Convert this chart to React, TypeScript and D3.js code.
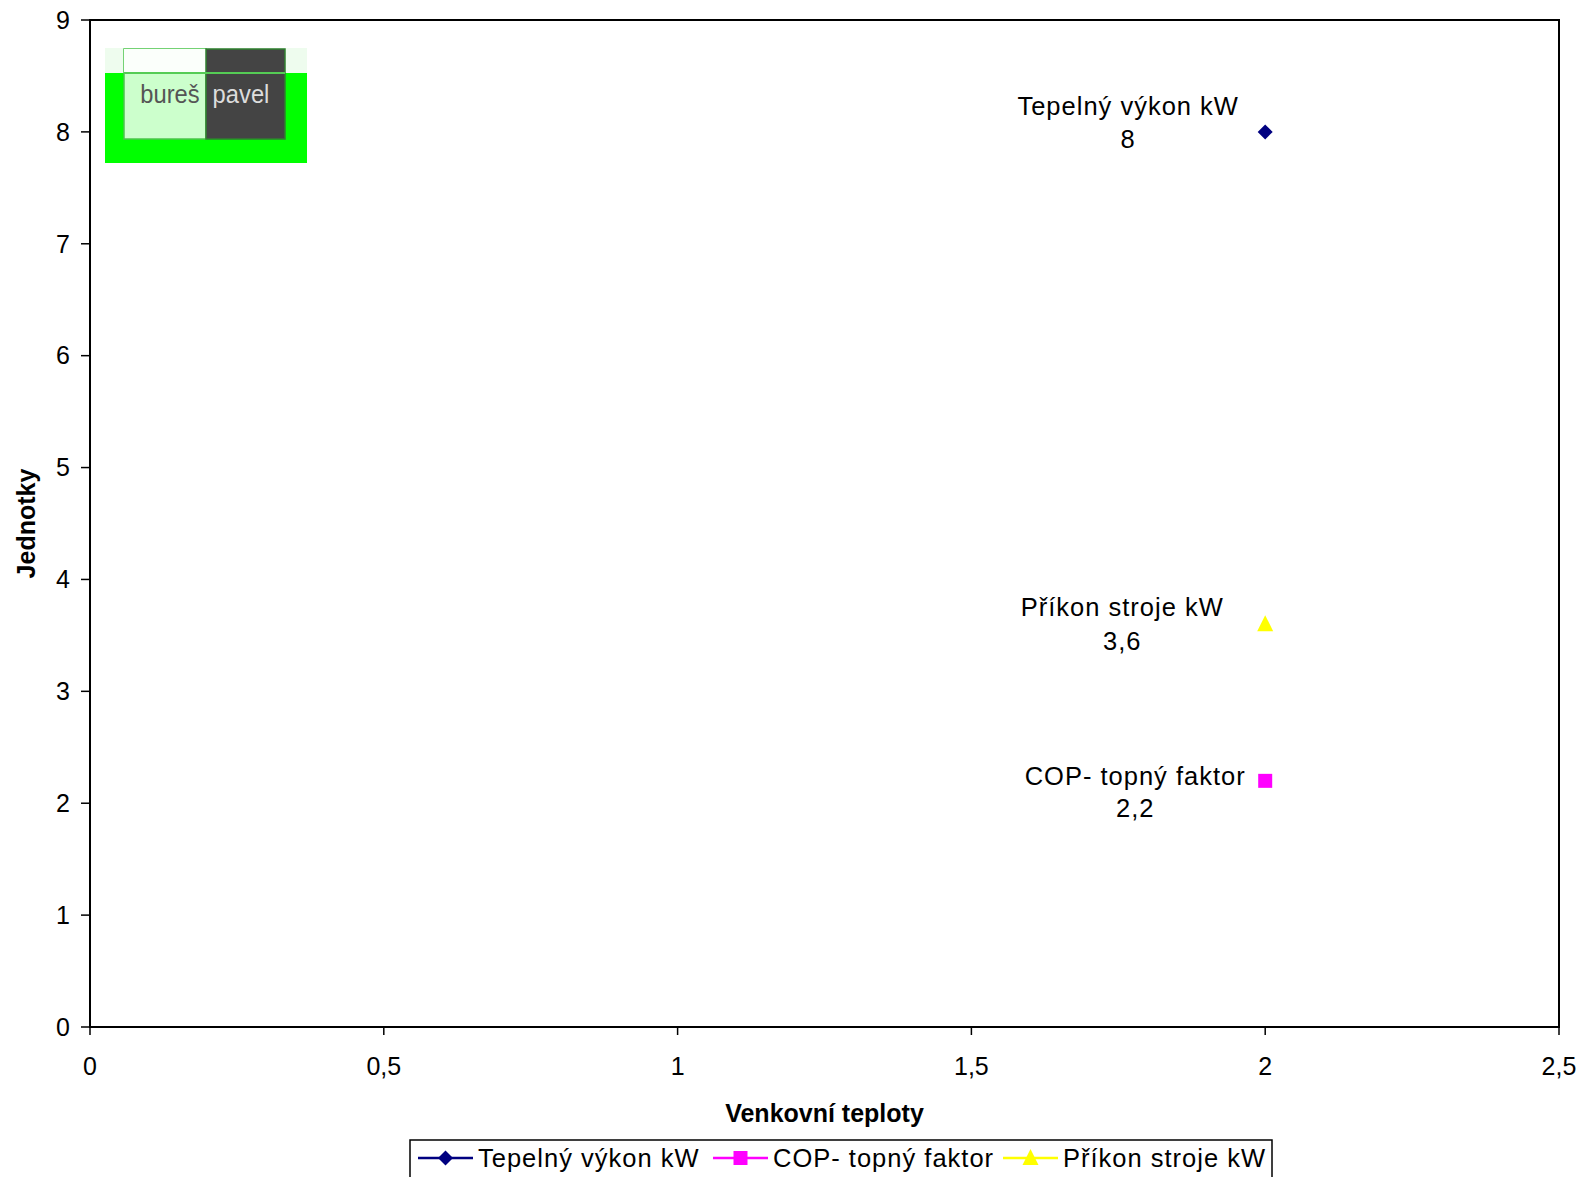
import React from "react";
import * as d3 from "d3";

const xValues = [2];
const seriesNames = ["Tepelný výkon kW", "COP- topný faktor", "Příkon stroje kW"];
const tepelnyVykon = [8];
const cop = [2.2];
const prikon = [3.6];
const xTicks = [0, 0.5, 1, 1.5, 2, 2.5];
const yTicks = [0, 1, 2, 3, 4, 5, 6, 7, 8, 9];
const xTitle = "Venkovní teploty";
const yTitle = "Jednotky";

const W = 1586, H = 1177;
const M = { left: 90, right: 1559, top: 20, bottom: 1027 };
const FONT = "'Liberation Sans', Arial, sans-serif";
const fmt = (v: number) => String(v).replace(".", ",");

const styles = [
  { color: "#000080", shape: "diamond", labelDx: -137, dy1: -17, dy2: 16 },
  { color: "#ff00ff", shape: "square", labelDx: -130, dy1: 4, dy2: 36 },
  { color: "#ffff00", shape: "triangle", labelDx: -143, dy1: -8, dy2: 26 },
];
const legendX = [418, 713, 1003];

function Marker({ shape, color, x, y }: { shape: string; color: string; x: number; y: number }) {
  if (shape === "diamond") {
    const p = d3.path();
    p.moveTo(x, y - 7.5); p.lineTo(x + 7.5, y); p.lineTo(x, y + 7.5); p.lineTo(x - 7.5, y); p.closePath();
    return <path d={p.toString()} fill={color} />;
  }
  if (shape === "square") return <rect x={x - 7} y={y - 7} width={14} height={14} fill={color} />;
  const p = d3.path();
  p.moveTo(x, y - 9); p.lineTo(x + 8, y + 7); p.lineTo(x - 8, y + 7); p.closePath();
  return <path d={p.toString()} fill={color} />;
}

export default function App() {
  const x = d3.scaleLinear().domain([0, 2.5]).range([M.left, M.right]);
  const y = d3.scaleLinear().domain([0, 9]).range([M.bottom, M.top]);
  const series = [tepelnyVykon, cop, prikon];
  return (
    <svg width={W} height={H} style={{ position: "absolute", left: 0, top: 0, background: "#fff" }} fontFamily={FONT}>
      <rect width={W} height={H} fill="#fff" />
      {/* logo */}
      <g>
        <rect x={105} y={48} width={202} height={25} fill="#eefcee" />
        <rect x={105} y={73} width={202} height={90} fill="#00ff00" />
        <rect x={124} y={49} width={82} height={90} fill="#ccffcc" stroke="#4cc44c" strokeWidth={1.5} />
        <rect x={124} y={49} width={82} height={24} fill="#fbfffb" />
        <rect x={206} y={49} width={79} height={90} fill="#444444" stroke="#2f7f2f" strokeWidth={1.5} />
        <line x1={124} x2={285} y1={73} y2={73} stroke="#55cc55" strokeWidth={2} />
        <text x={170} y={103} textAnchor="middle" fontSize={25} fill="#555" transform="translate(170,0) scale(0.95,1) translate(-170,0)">bureš</text>
        <text x={241} y={103} textAnchor="middle" fontSize={25} fill="#ddd" transform="translate(241,0) scale(0.95,1) translate(-241,0)">pavel</text>
      </g>
      {/* plot frame */}
      <rect x={M.left} y={M.top} width={M.right - M.left} height={M.bottom - M.top} fill="none" stroke="#000" strokeWidth={2} />
      {yTicks.map((t) => (
        <g key={"y" + t}>
          <line x1={M.left - 9} x2={M.left} y1={y(t)} y2={y(t)} stroke="#000" strokeWidth={1.5} />
          <text x={M.left - 20} y={y(t)} dy="0.35em" textAnchor="end" fontSize={25}>{fmt(t)}</text>
        </g>
      ))}
      {xTicks.map((t) => (
        <g key={"x" + t}>
          <line x1={x(t)} x2={x(t)} y1={M.bottom} y2={M.bottom + 8} stroke="#000" strokeWidth={1.5} />
          <text x={x(t)} y={M.bottom + 48} textAnchor="middle" fontSize={25}>{fmt(t)}</text>
        </g>
      ))}
      <text x={(M.left + M.right) / 2} y={1122} textAnchor="middle" fontSize={25} fontWeight="bold">{xTitle}</text>
      <text transform={`translate(35,${(M.top + M.bottom) / 2}) rotate(-90)`} textAnchor="middle" fontSize={25} fontWeight="bold">{yTitle}</text>
      {/* points and labels */}
      {series.map((vals, i) =>
        vals.map((v, j) => {
          const px = x(xValues[j]), py = y(v);
          const s = styles[i];
          return (
            <g key={i + "-" + j}>
              <Marker shape={s.shape} color={s.color} x={px} y={py} />
              <text x={px + s.labelDx} y={py + s.dy1} textAnchor="middle" fontSize={25.5} letterSpacing={1}>{seriesNames[i]}</text>
              <text x={px + s.labelDx} y={py + s.dy2} textAnchor="middle" fontSize={25.5} letterSpacing={1}>{fmt(v)}</text>
            </g>
          );
        })
      )}
      {/* legend */}
      <rect x={410} y={1140} width={862} height={50} fill="#fff" stroke="#000" strokeWidth={1.5} />
      {seriesNames.map((n, i) => (
        <g key={"l" + i}>
          <line x1={legendX[i]} x2={legendX[i] + 55} y1={1158} y2={1158} stroke={styles[i].color} strokeWidth={2.5} />
          <Marker shape={styles[i].shape} color={styles[i].color} x={legendX[i] + 27.5} y={1158} />
          <text x={legendX[i] + 60} y={1158} dy="0.35em" fontSize={25.5} letterSpacing={1}>{n}</text>
        </g>
      ))}
    </svg>
  );
}
